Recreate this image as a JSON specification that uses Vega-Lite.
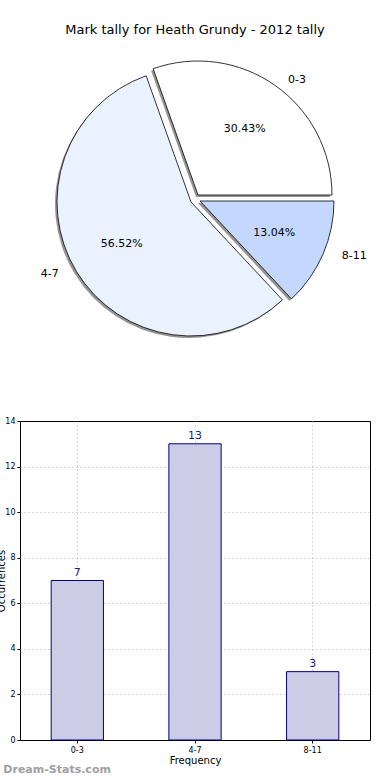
{
  "$schema": "https://vega.github.io/schema/vega-lite/v6.json",
  "autosize": {"type": "none"},
  "padding": {"left": 20, "top": 49, "right": 370, "bottom": 731},
  "bounds": "flush",
  "spacing": 72,
  "config": {
    "font": "DejaVu Sans",
    "view": {"stroke": null},
    "title": {"font": "DejaVu Sans", "fontWeight": "normal", "color": "black"}
  },
  "datasets": {
    "tally": [
      {"label": "0-3", "count": 7, "share": 0.3043},
      {"label": "4-7", "count": 13, "share": 0.5652},
      {"label": "8-11", "count": 3, "share": 0.1304}
    ]
  },
  "title": {
    "text": "Dream-Stats.com",
    "orient": "bottom",
    "anchor": "start",
    "fontSize": 11,
    "fontWeight": "bold",
    "color": "#a0a0a0",
    "offset": -2,
    "dx": 7
  },
  "vconcat": [
    {
      "width": 350,
      "height": 300,
      "title": {"text": "Mark tally for Heath Grundy - 2012 tally", "fontSize": 13, "offset": 12},
      "data": {"name": "tally"},
      "encoding": {
        "theta": {"field": "count", "type": "quantitative", "stack": true, "scale": {"range": [1.5708, 7.854]}},
        "order": {"field": "label", "sort": "descending"}
      },
      "layer": [
        {
          "mark": {
            "type": "arc", "radius": 134, "fill": "#7a7a7a", "fillOpacity": 0.8,
            "xOffset": {"expr": "datum.label == '0-3' ? 1 : datum.label == '4-7' ? -6 : 3"},
            "yOffset": {"expr": "datum.label == '0-3' ? -2 : datum.label == '4-7' ? 5 : 4"}
          }
        },
        {
          "mark": {
            "type": "arc", "radius": 134, "stroke": "black", "strokeWidth": 0.8,
            "xOffset": {"expr": "datum.label == '0-3' ? 3 : datum.label == '4-7' ? -4 : 5"},
            "yOffset": {"expr": "datum.label == '0-3' ? -4 : datum.label == '4-7' ? 3 : 2"}
          },
          "encoding": {
            "color": {"field": "label", "type": "nominal", "legend": null,
              "scale": {"domain": ["0-3", "4-7", "8-11"], "range": ["#ffffff", "#ebf2ff", "#c4d8ff"]}}
          }
        },
        {
          "mark": {
            "type": "text", "radius": 81, "fontSize": 11, "color": "black",
            "xOffset": {"expr": "datum.label == '0-3' ? 3 : datum.label == '4-7' ? -4 : 5"},
            "yOffset": {"expr": "datum.label == '0-3' ? -4 : datum.label == '4-7' ? 3 : 2"}
          },
          "encoding": {"text": {"field": "share", "type": "quantitative", "format": ".2%"}}
        },
        {
          "mark": {
            "type": "text", "radius": 149, "fontSize": 11, "color": "black", "baseline": "middle",
            "align": {"expr": "datum.label == '4-7' ? 'right' : 'left'"},
            "xOffset": {"expr": "datum.label == '0-3' ? 7 : datum.label == '4-7' ? -9 : 10"},
            "yOffset": {"expr": "datum.label == '0-3' ? 3 : datum.label == '4-7' ? -2 : -2"}
          },
          "encoding": {"text": {"field": "label", "type": "nominal"}}
        }
      ]
    },
    {
      "width": 350,
      "height": 319,
      "view": {"stroke": "black", "strokeWidth": 1},
      "data": {"name": "tally"},
      "encoding": {
        "x": {
          "field": "label", "type": "nominal", "sort": ["0-3", "4-7", "8-11"],
          "scale": {"paddingInner": 0.556, "paddingOuter": 0.265},
          "axis": {
            "title": "Frequency", "titleFontSize": 10, "titleFontWeight": "normal", "titlePadding": 1,
            "labelFontSize": 8, "labelAngle": 0, "labelPadding": 3, "labelColor": "black",
            "domain": false, "ticks": true, "tickSize": 3, "tickColor": "black",
            "grid": true, "gridColor": "#b0b0b0", "gridDash": [1, 3], "bandPosition": 0.5
          }
        },
        "y": {
          "field": "count", "type": "quantitative",
          "scale": {"domain": [0, 14], "nice": false},
          "axis": {
            "title": "Occurrences", "titleFontSize": 10, "titleFontWeight": "normal", "titlePadding": -2,
            "values": [0, 2, 4, 6, 8, 10, 12, 14],
            "labelFontSize": 8, "labelPadding": 2, "labelColor": "black",
            "domain": false, "ticks": true, "tickSize": 3, "tickColor": "black",
            "grid": true, "gridDash": [1, 3],
            "gridColor": {"condition": {"test": "datum.value == 0 || datum.value == 14", "value": "transparent"}, "value": "#b0b0b0"}
          }
        }
      },
      "layer": [
        {"mark": {"type": "bar", "fill": "#ccccE6", "stroke": "#000080", "strokeWidth": 1}},
        {
          "mark": {"type": "text", "baseline": "bottom", "dy": -3, "fontSize": 11, "color": "#1a1a80"},
          "encoding": {"text": {"field": "count", "type": "quantitative"}}
        }
      ]
    }
  ]
}
